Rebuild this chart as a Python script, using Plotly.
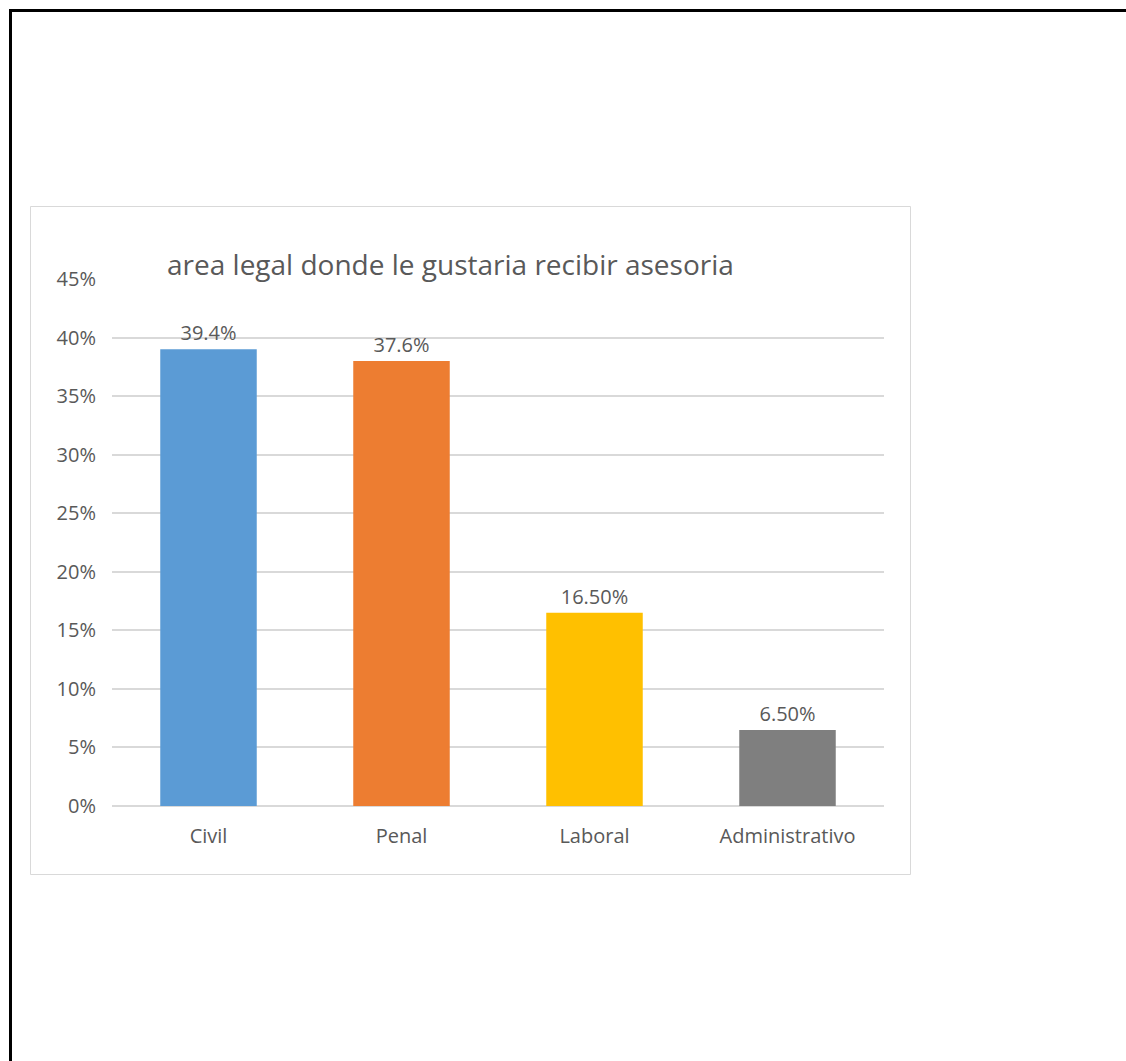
import plotly.graph_objects as go

categories = ["Civil", "Penal", "Laboral", "Administrativo"]
values = [39.0, 38.0, 16.5, 6.5]
value_labels = ["39.4%", "37.6%", "16.50%", "6.50%"]
colors = ["#5B9BD5", "#ED7D31", "#FFC000", "#7F7F7F"]
y_ticks = [0, 5, 10, 15, 20, 25, 30, 35, 40, 45]
y_tick_labels = ["0%", "5%", "10%", "15%", "20%", "25%", "30%", "35%", "40%", "45%"]
title_text = "area legal donde le gustaria recibir asesoria"

W, H = 1126, 1061
L, R, T, B = 112, 884, 279, 806  # plot area in pixels

def px(x):
    return (x - L) / (R - L)

def py(y):
    return (B - y) / (B - T)

FONT = "Open Sans"
GREY = "#595959"

fig = go.Figure(
    go.Bar(
        x=categories,
        y=values,
        marker=dict(color=colors, line=dict(width=0)),
        text=value_labels,
        textposition="outside",
        textfont=dict(family=FONT, size=20, color=GREY),
        cliponaxis=False,
        width=0.5,
    )
)

shapes = [
    # chart box
    dict(type="rect", xref="paper", yref="paper",
         x0=px(30.5), x1=px(910.5), y0=py(874.5), y1=py(206.5),
         line=dict(color="#D9D9D9", width=1), layer="below"),
    # black page frame (left and top)
    dict(type="line", xref="paper", yref="paper",
         x0=px(10.5), x1=px(10.5), y0=py(1065), y1=py(9),
         line=dict(color="black", width=3)),
    dict(type="line", xref="paper", yref="paper",
         x0=px(9), x1=px(1130), y0=py(10.5), y1=py(10.5),
         line=dict(color="black", width=3)),
]

fig.update_layout(
    width=W, height=H,
    margin=dict(l=L, r=W - R, t=T, b=H - B, pad=0),
    paper_bgcolor="white", plot_bgcolor="white",
    showlegend=False,
    shapes=shapes,
    title=dict(text=title_text, xref="container", yref="container",
               x=167 / W, xanchor="left", y=1 - 265 / H, yanchor="middle",
               font=dict(family=FONT, size=28, color=GREY)),
    bargap=0.5,
    xaxis=dict(showgrid=False, showline=False, ticks="",
               tickfont=dict(family=FONT, size=20, color=GREY),
               ticklabelstandoff=16),
    yaxis=dict(range=[0, 45], tickmode="array", tickvals=y_ticks,
               ticktext=y_tick_labels,
               showgrid=True, gridcolor="#D9D9D9", gridwidth=1.5,
               zeroline=True, zerolinecolor="#D9D9D9", zerolinewidth=1.5,
               showline=False, ticks="",
               tickfont=dict(family=FONT, size=20, color=GREY),
               ticklabelstandoff=15),
)

fig.write_html("out.html",
               config={"displayModeBar": False},
               post_script="document.body.style.margin='0';document.body.style.padding='0';")
